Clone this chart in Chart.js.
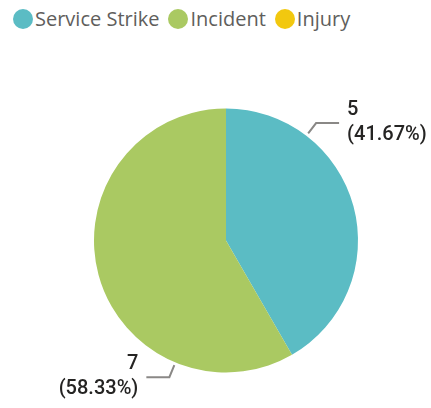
<!DOCTYPE html>
<html>
<head>
<meta charset="utf-8">
<script src="https://cdn.jsdelivr.net/npm/chart.js@4.4.1/dist/chart.umd.min.js"></script>
<style>
    html, body { margin: 0; padding: 0; background: #fff; }
    #wrap { position: relative; width: 431px; height: 408px; }
    #legend {
        position: absolute; left: 13px; top: 5px;
        display: flex; align-items: center;
        font-family: "Open Sans", sans-serif; font-size: 20px; color: #605e5c;
        white-space: nowrap;
    }
    #legend .item { display: flex; align-items: center; margin-right: 9px; }
    #legend .dot { width: 20px; height: 20px; border-radius: 50%; margin-right: 2px; }
    canvas { position: absolute; left: 0; top: 0; }
</style>
</head>
<body>
<div id="wrap">
    <div id="legend"></div>
    <canvas id="myChart" width="431" height="408"></canvas>
</div>
<script>
    var categories = ['Service Strike', 'Incident', 'Injury'];
    var counts = [5, 7, 0];
    var colors = ['#5bbcc4', '#aac962', '#f2c80f'];

    // Legend as plain html, same order as the slices
    var legend = document.getElementById('legend');
    categories.forEach(function (name, i) {
        var item = document.createElement('div');
        item.className = 'item';
        var dot = document.createElement('span');
        dot.className = 'dot';
        dot.style.background = colors[i];
        var label = document.createElement('span');
        label.textContent = name;
        item.appendChild(dot);
        item.appendChild(label);
        legend.appendChild(item);
    });

    var total = counts.reduce(function (a, b) { return a + b; }, 0);

    // Data labels with leader lines, placed a quarter of the way along each slice
    var leaderLabels = {
        id: 'leaderLabels',
        afterDatasetsDraw: function (chart) {
            var ctx = chart.ctx;
            var meta = chart.getDatasetMeta(0);
            meta.data.forEach(function (arc, i) {
                var value = counts[i];
                if (!value) return;
                var p = arc.getProps(['x', 'y', 'startAngle', 'endAngle', 'outerRadius'], true);
                var a = p.startAngle + 0.25 * (p.endAngle - p.startAngle);
                var cos = Math.cos(a), sin = Math.sin(a);
                var x0 = p.x + (p.outerRadius + 3) * cos, y0 = p.y + (p.outerRadius + 3) * sin;
                var x1 = p.x + (p.outerRadius + 16) * cos, y1 = p.y + (p.outerRadius + 16) * sin;
                var dir = cos >= 0 ? 1 : -1;
                var x2 = x1 + dir * 23;

                ctx.save();
                ctx.strokeStyle = '#8a8886';
                ctx.lineWidth = 2;
                ctx.beginPath();
                ctx.moveTo(x0, y0);
                ctx.lineTo(x1, y1);
                ctx.lineTo(x2, y1);
                ctx.stroke();

                ctx.fillStyle = '#252423';
                ctx.font = '500 20px Roboto';
                ctx.textBaseline = 'middle';
                ctx.textAlign = dir > 0 ? 'left' : 'right';
                var tx = x2 + dir * 8;
                var pct = (value / total * 100).toFixed(2) + '%';
                ctx.fillText(String(value), tx, y1 - 13);
                ctx.fillText('(' + pct + ')', tx, y1 + 12);
                ctx.restore();
            });
        }
    };

    var ctx = document.getElementById('myChart').getContext('2d');
    var myPie = new Chart(ctx, {
        type: 'pie',
        data: {
            labels: categories,
            datasets: [
                {
                    data: counts,
                    backgroundColor: colors,
                    borderWidth: 0
                }
            ]
        },
        options: {
            responsive: false,
            animation: false,
            layout: {
                padding: { top: 108.5, bottom: 35.5, left: 94, right: 73 }
            },
            plugins: {
                legend: { display: false },
                tooltip: { enabled: false }
            }
        },
        plugins: [leaderLabels]
    });
</script>
</body>
</html>
